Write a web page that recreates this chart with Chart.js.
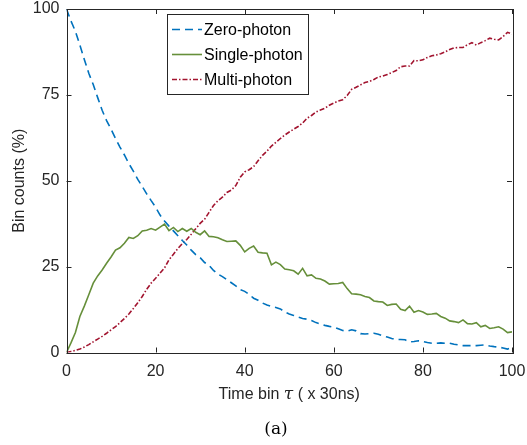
<!DOCTYPE html>
<html>
<head>
<meta charset="utf-8">
<script src="https://cdn.jsdelivr.net/npm/chart.js@4/dist/chart.umd.min.js"></script>
<style>
  html, body { margin: 0; padding: 0; background: #fff; }
  #wrap { width: 527px; height: 445px; position: relative; }
</style>
</head>
<body>
<div id="wrap"><canvas id="binChart" width="527" height="445"></canvas></div>
<script>
// time bins 0..100 (units of 30 ns)
var tau = Array.from({ length: 101 }, function (_, i) { return i; });

var zeroPhoton = [
  100, 96.5, 93.5, 89.5, 85.3, 81.3, 78, 74.2, 70.5, 67.5,
  65, 62.3, 59.8, 57.5, 55, 52.8, 50.4, 48.3, 46.2, 44.2,
  42.3, 40, 38.3, 36.8, 35.4, 34, 32.6, 31.3, 29.8, 28.5,
  27.6, 26.2, 25.4, 23.9, 22.8, 22.1, 21.2, 20.3, 19.4, 18.3,
  17.8, 16.9, 15.8, 15.2, 14.4, 13.8, 13.4, 13.1, 12.7, 11.8,
  11.2, 10.8, 10.3, 9.9, 9.7, 9.3, 8.7, 8.3, 7.9, 7.6,
  7.4, 6.9, 6.4, 6.2, 6.6, 6.3, 5.5, 5.4, 5.5, 5.6,
  5.3, 4.8, 4.5, 4.1, 3.8, 3.8, 3.7, 3.1, 3.2, 3.4,
  3.2, 2.9, 2.7, 2.7, 2.8, 2.7, 2.7, 2.4, 2.2, 2.0,
  2.0, 2.0, 2.0, 2.1, 2.2, 1.9, 1.7, 1.6, 1.3, 1.0,
  1.4
];

var singlePhoton = [
  0, 2.8, 5.8, 10.5, 13.5, 16.8, 20.2, 22.3, 24, 26,
  27.8, 29.8, 30.5, 31.8, 33.5, 33.2, 34, 35.4, 35.6, 36.1,
  35.6, 36.5, 37.4, 35.5, 36.4, 35.2, 36.1, 35.3, 36.1, 35,
  34.3, 35.4, 33.8, 33.7, 33.4, 32.8, 32.3, 32.4, 32.5, 31.2,
  29.3, 30.3, 31, 29.2, 29, 28.9, 25.5, 26.3, 25.6, 24.3,
  24.1, 23.8, 22.8, 24.5, 22.3, 22.6, 21.6, 21.4, 20.8, 19.9,
  20, 20.1, 20.4, 18.6, 17.1, 17, 16.8, 16.3, 16, 15,
  14.8, 14.7, 13.7, 14, 14.1, 12.6, 12.2, 13.5, 11.7, 12.2,
  11.8, 11.1, 11.2, 11.4, 10.5, 10.0, 9.2, 9.0, 8.7, 9.5,
  8.4, 8.3, 8.7, 7.5, 7.9, 7.0, 7.2, 7.5, 6.8, 5.8,
  6.0
];

var multiPhoton = [
  0, 0.3, 0.6, 1, 1.6, 2.3, 3.1, 3.9, 4.7, 5.6,
  6.6, 7.5, 8.7, 9.9, 11.2, 12.8, 14.5, 16.3, 18.4, 20.2,
  21.6, 23.1, 24.6, 27, 28.6, 30.3, 31.7, 32.9, 34.4, 36,
  37.6, 38.8, 40.8, 42.8, 44.2, 45.2, 46.6, 47.3, 48.6, 51,
  52.6, 53.2, 54.1, 55.8, 57.4, 58.6, 60.1, 61.2, 62.3, 63.3,
  64.2, 65, 65.8, 66.8, 68.2, 69, 70, 70.6, 71.1, 72,
  72.6, 73.2, 73.6, 74.8, 76.6, 77.2, 77.9, 78.6, 78.9, 79.5,
  80.2, 80.5, 80.9, 81.5, 82.1, 83.2, 83.4, 83.4, 85.0, 84.9,
  85.2, 85.9, 86.4, 86.6, 87, 87.5, 88.2, 88.7, 88.8, 88.8,
  89.6, 90.2, 89.5, 90.2, 90.8, 91.5, 91.2, 91, 92, 93.2,
  92.7
];

var seriesNames = ['Zero-photon', 'Single-photon', 'Multi-photon'];
var seriesColors = ['#0072BD', '#668F3A', '#A2142F'];
var seriesDash = [[8, 5], [], [5, 2, 1.5, 2]];
var xTicks = [0, 20, 40, 60, 80, 100];
var yTicks = [0, 25, 50, 75, 100];

var AXIS = '#262626';
var SANS = '"Liberation Sans", Arial, Helvetica, sans-serif';

function pts(vals) {
  return vals.map(function (v, i) { return { x: tau[i], y: v }; });
}

// no extra room for overhanging tick labels
function noPad(s) {
  s.paddingLeft = 0; s.paddingRight = 0;
  s.paddingTop = 0; s.paddingBottom = 0;
}

// box, inward ticks, legend, titles
var frame = {
  id: 'frame',
  afterDraw: function (chart) {
    var c = chart.ctx, a = chart.chartArea;
    var sx = chart.scales.x, sy = chart.scales.y;
    c.save();
    c.strokeStyle = AXIS;
    c.lineWidth = 1;
    c.strokeRect(Math.round(a.left) + 0.5, Math.round(a.top) + 0.5,
      Math.round(a.right - a.left), Math.round(a.bottom - a.top));

    c.beginPath();
    xTicks.forEach(function (t) {
      var px = Math.round(sx.getPixelForValue(t)) + 0.5;
      c.moveTo(px, a.bottom); c.lineTo(px, a.bottom - 5);
      c.moveTo(px, a.top); c.lineTo(px, a.top + 5);
    });
    yTicks.forEach(function (t) {
      var py = Math.round(sy.getPixelForValue(t)) + 0.5;
      c.moveTo(a.left, py); c.lineTo(a.left + 5, py);
      c.moveTo(a.right, py); c.lineTo(a.right - 5, py);
    });
    c.stroke();

    // legend
    var lx = 167.5, ly = 14.5, lw = 141, lh = 80;
    c.fillStyle = '#fff';
    c.fillRect(lx, ly, lw, lh);
    c.strokeStyle = AXIS;
    c.strokeRect(lx, ly, lw, lh);
    c.font = '16px ' + SANS;
    c.textBaseline = 'middle';
    c.textAlign = 'left';
    seriesNames.forEach(function (name, i) {
      var yy = 29.5 + i * 25;
      c.strokeStyle = seriesColors[i];
      c.lineWidth = 1.6;
      c.setLineDash(seriesDash[i]);
      c.beginPath();
      c.moveTo(172, yy); c.lineTo(202, yy);
      c.stroke();
      c.setLineDash([]);
      c.fillStyle = '#000';
      c.fillText(name, 204, yy + 1);
    });

    // x axis title with italic tau
    c.fillStyle = AXIS;
    c.textBaseline = 'alphabetic';
    var p1 = 'Time bin ', tauTxt = '\u03C4', p2 = ' ( x 30ns)';
    var f1 = '16px ' + SANS, f2 = 'italic 17px "DejaVu Serif", serif';
    c.font = f1; var w1 = c.measureText(p1).width, w3 = c.measureText(p2).width;
    c.font = f2; var w2 = c.measureText(tauTxt).width;
    var x0 = (a.left + a.right) / 2 - (w1 + w2 + w3) / 2;
    c.font = f1; c.fillText(p1, x0, 399);
    c.font = f2; c.fillText(tauTxt, x0 + w1, 399);
    c.font = f1; c.fillText(p2, x0 + w1 + w2, 399);

    // y axis title
    c.save();
    c.translate(24, (a.top + a.bottom) / 2);
    c.rotate(-Math.PI / 2);
    c.textAlign = 'center';
    c.font = '16px ' + SANS;
    c.fillText('Bin counts (%)', 0, 0);
    c.restore();

    // panel label
    c.fillStyle = '#000';
    c.textAlign = 'center';
    c.font = '17px "DejaVu Serif", "Liberation Serif", serif';
    c.fillText('(a)', 276, 434);
    c.restore();
  }
};

var ctx = document.getElementById('binChart').getContext('2d');
var binChart = new Chart(ctx, {
  type: 'line',
  data: {
    datasets: seriesNames.map(function (name, i) {
      return {
        label: name,
        data: pts([zeroPhoton, singlePhoton, multiPhoton][i]),
        borderColor: seriesColors[i],
        borderDash: seriesDash[i],
        borderWidth: 1.6,
        pointRadius: 0,
        tension: 0,
        fill: false
      };
    })
  },
  options: {
    responsive: false,
    animation: false,
    layout: { padding: { left: 0, right: 15, top: 9, bottom: 0 } },
    scales: {
      x: {
        type: 'linear', min: 0, max: 100,
        afterFit: function (s) { s.height = 92.5; noPad(s); },
        afterBuildTicks: function (s) { s.ticks = xTicks.map(function (v) { return { value: v }; }); },
        grid: { display: false, drawTicks: false },
        border: { display: false },
        ticks: { color: AXIS, padding: 9, maxRotation: 0, font: { family: SANS, size: 16 } }
      },
      y: {
        type: 'linear', min: 0, max: 100,
        afterFit: function (s) { s.width = 66.5; noPad(s); },
        afterBuildTicks: function (s) { s.ticks = yTicks.map(function (v) { return { value: v }; }); },
        grid: { display: false, drawTicks: false },
        border: { display: false },
        ticks: { color: AXIS, padding: 7, font: { family: SANS, size: 16 } }
      }
    },
    plugins: { legend: { display: false }, tooltip: { enabled: false } }
  },
  plugins: [frame]
});
</script>
</body>
</html>
